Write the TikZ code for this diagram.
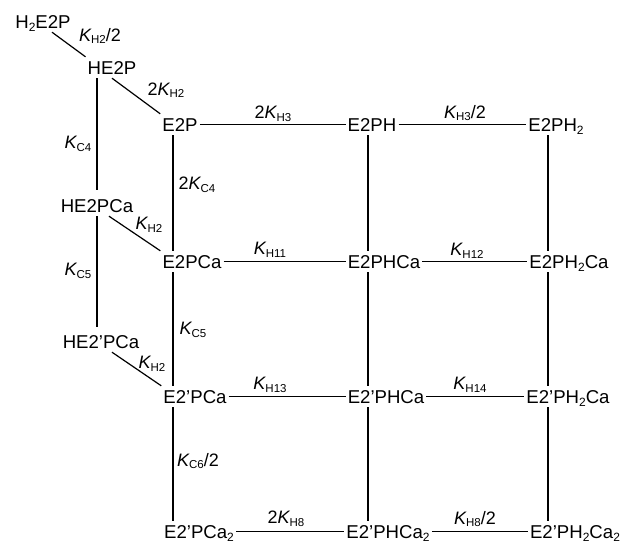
\documentclass[tikz,border=0pt]{standalone}
\usepackage{fontspec}
\setmainfont{Liberation Sans}
\newcommand{\Kc}[1]{{\itshape K}\raisebox{-2.5pt}{\fontsize{11.5}{12}\selectfont #1}}
\newcommand{\sbs}[1]{\raisebox{-3pt}{\fontsize{12}{12}\selectfont #1}}
\begin{document}
\begin{tikzpicture}[x=1pt,y=-1pt,
  sp/.style={anchor=base,text height=17pt,text depth=4pt,inner xsep=2pt,inner ysep=0pt,font=\fontsize{18.6}{20}\selectfont},
  lb/.style={inner sep=0pt,font=\fontsize{18}{20}\selectfont},
  ln/.style={line width=1.2pt}]
\useasboundingbox (0,0) rectangle (626,544);
% species
\node[sp] (h2e2p) at (43,28) {H\sbs{2}E2P};
\node[sp] (he2p) at (112,74) {HE2P};
\node[sp] (e2p) at (180,131) {E2P};
\node[sp] (e2ph) at (372,131) {E2PH};
\node[sp] (e2ph2) at (556,131) {E2PH\sbs{2}};
\node[sp] (he2pca) at (97,212) {HE2PCa};
\node[sp] (e2pca) at (192,268) {E2PCa};
\node[sp] (e2phca) at (384,268) {E2PHCa};
\node[sp] (e2ph2ca) at (569,268) {E2PH\sbs{2}Ca};
\node[sp] (hepca) at (101,348) {HE2'PCa};
\node[sp] (epca) at (195,403) {E2'PCa};
\node[sp] (ephca) at (386,403) {E2'PHCa};
\node[sp] (eph2ca) at (568,403) {E2'PH\sbs{2}Ca};
\node[sp] (epca2) at (199,538) {E2'PCa\sbs{2}};
\node[sp] (ephca2) at (388,538) {E2'PHCa\sbs{2}};
\node[sp] (eph2ca2) at (575,538) {E2'PH\sbs{2}Ca\sbs{2}};
% column coordinates
\coordinate (cA) at (97,0);
\coordinate (cB) at (173,0);
\coordinate (cC) at (368,0);
\coordinate (cD) at (548,0);
% diagonals
\draw[ln] ([xshift=9pt]h2e2p.south) -- (he2p.north west);
\draw[ln] (he2p.south) -- (e2p.north west);
\draw[ln] ([xshift=12pt]he2pca.south) -- (e2pca.north west);
\draw[ln] ([xshift=11pt]hepca.south) -- (epca.north west);
% left column
\draw[ln] (cA |- he2p.south) -- ([yshift=5pt]cA |- he2pca.north);
\draw[ln] (cA |- he2pca.south) -- ([yshift=4pt]cA |- hepca.north);
% column B
\draw[ln] (cB |- e2p.south) -- (cB |- e2pca.north);
\draw[ln] (cB |- e2pca.south) -- (cB |- epca.north);
\draw[ln] (cB |- epca.south) -- (cB |- epca2.north);
% column C
\draw[ln] (cC |- e2ph.south) -- (cC |- e2phca.north);
\draw[ln] (cC |- e2phca.south) -- (cC |- ephca.north);
\draw[ln] (cC |- ephca.south) -- (cC |- ephca2.north);
% column D
\draw[ln] (cD |- e2ph2.south) -- (cD |- e2ph2ca.north);
\draw[ln] (cD |- e2ph2ca.south) -- (cD |- eph2ca.north);
\draw[ln] (cD |- eph2ca.south) -- (cD |- eph2ca2.north);
% rows
\draw[ln] (e2p.east) -- (e2ph.west);
\draw[ln] (e2ph.east) -- (e2ph2.west);
\draw[ln] (e2pca.east) -- (e2phca.west);
\draw[ln] (e2phca.east) -- (e2ph2ca.west);
\draw[ln] (epca.east) -- (ephca.west);
\draw[ln] (ephca.east) -- (eph2ca.west);
\draw[ln] (epca2.east) -- (ephca2.west);
\draw[ln] (ephca2.east) -- (eph2ca2.west);
% labels
\node[lb] (l1) at (100,36) {\Kc{H2}/2};
\node[lb] (l2) at (166,90) {2\Kc{H2}};
\node[lb] (l3) at (273,114) {2\Kc{H3}};
\node[lb] (l4) at (465,113) {\Kc{H3}/2};
\node[lb] (l5) at (78,144) {\Kc{C4}};
\node[lb] (l6) at (197,185) {2\Kc{C4}};
\node[lb] (l7) at (149,225) {\Kc{H2}};
\node[lb] (l8) at (270,250) {\Kc{H11}};
\node[lb] (l9) at (467,251) {\Kc{H12}};
\node[lb] (l10) at (78,271) {\Kc{C5}};
\node[lb] (l11) at (193,330) {\Kc{C5}};
\node[lb] (l12) at (152,364) {\Kc{H2}};
\node[lb] (l13) at (270,385) {\Kc{H13}};
\node[lb] (l14) at (470,385) {\Kc{H14}};
\node[lb] (l15) at (198,461) {\Kc{C6}/2};
\node[lb] (l16) at (286,519) {2\Kc{H8}};
\node[lb] (l17) at (475,519) {\Kc{H8}/2};
\end{tikzpicture}
\end{document}
